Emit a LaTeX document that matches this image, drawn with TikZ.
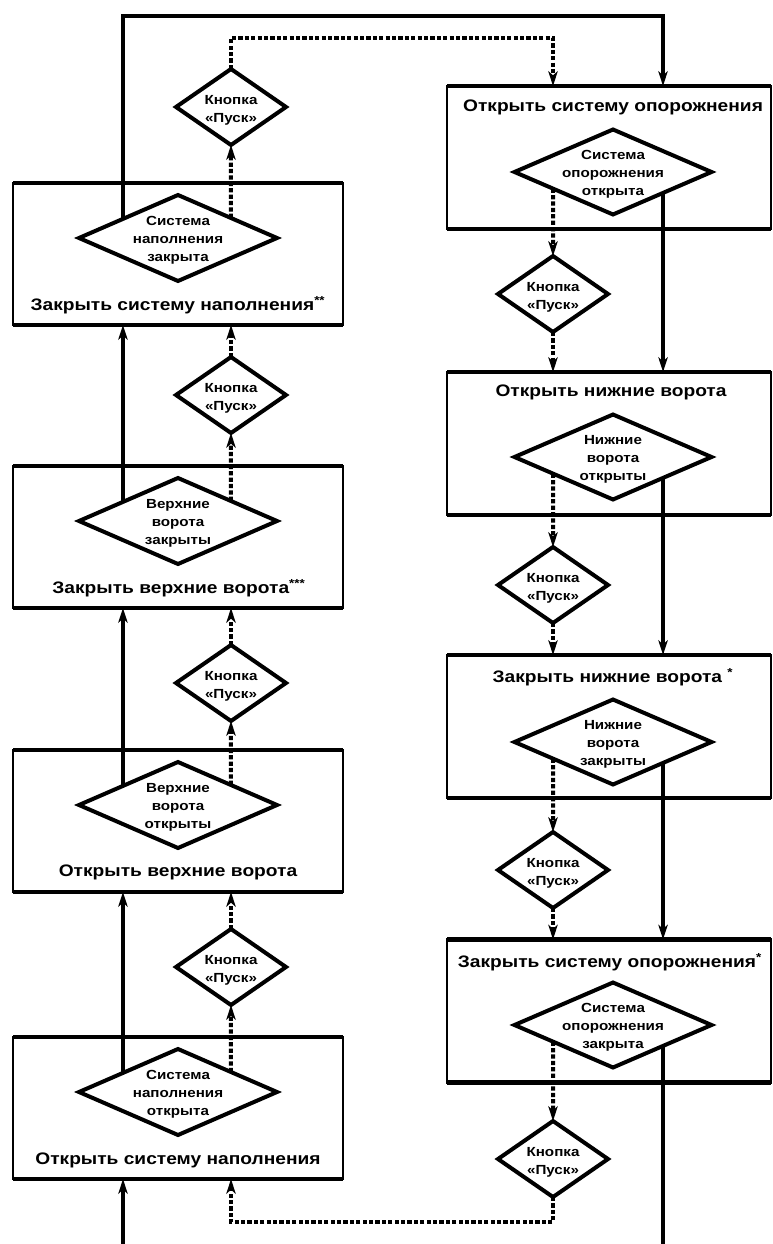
\documentclass[tikz,border=0pt]{standalone}
\usepackage{fontspec}
\newfontfamily\tfont[FakeStretch=1.15]{Liberation Sans}
\usetikzlibrary{shapes.geometric,arrows.meta,calc}
\tikzset{
  box/.style={draw, line width=2.2pt, minimum width=247.5pt, minimum height=106.5pt, inner sep=0pt, outer sep=0pt},
  rbox/.style={box, minimum width=243pt, minimum height=107.25pt},
  dia/.style={draw, diamond, line width=3pt, minimum width=148.5pt, minimum height=64.5pt, inner sep=0pt, outer sep=0pt},
  rdia/.style={dia, minimum width=147.75pt, minimum height=63.75pt},
  kdia/.style={draw, diamond, line width=3pt, minimum width=82.5pt, minimum height=57pt, inner sep=0pt, outer sep=0pt},
  boxtitle/.style={font=\tfont\bfseries\fontsize{12.5}{15}\selectfont, inner sep=0pt},
  dtext/.style={font=\tfont\bfseries\fontsize{9.9}{13.5}\selectfont, align=center, inner sep=0pt},
  sol/.style={line width=3pt},
  dotl/.style={line width=3pt, dash pattern=on 3.2pt off 1.6pt},
  arr/.style={-{Stealth[length=11pt,width=7pt,inset=3pt]}},
  thickedge/.style={line width=3.6pt},
}
\begin{document}
\begin{tikzpicture}[x=0.75pt,y=-0.75pt]
\useasboundingbox (0,0) rectangle (773,1244);
\fill[white] (0,0) rectangle (773,1244);

% left boxes
\node[box] (L1) at (178,254) {};
\node[box] (L2) at (178,537) {};
\node[box] (L3) at (178,821) {};
\node[box] (L4) at (178,1108) {};
% right boxes
\node[rbox] (R1) at (609,157.5) {};
\node[rbox] (R2) at (609,443.5) {};
\node[rbox] (R3) at (609,726.5) {};
\node[rbox] (R4) at (609,1011) {};
\foreach \b in {L1,L2,L3,L4,R1,R2,R3,R4}{
  \draw[thickedge] (\b.north west) -- (\b.north east);
  \draw[thickedge] (\b.south west) -- (\b.south east);
}

% titles
\node[boxtitle] (tL1) at (178,305) {Закрыть систему наполнения\textsuperscript{**}};
\node[boxtitle] (tL2) at (179,588) {Закрыть верхние ворота\textsuperscript{***}};
\node[boxtitle] (tL3) at (178,872) {Открыть верхние ворота};
\node[boxtitle] (tL4) at (178,1160) {Открыть систему наполнения};
\node[boxtitle] (tR1) at (613,107) {Открыть систему опорожнения};
\node[boxtitle] (tR2) at (611,392) {Открыть нижние ворота};
\node[boxtitle] (tR3) at (613,677) {Закрыть нижние ворота \textsuperscript{*}};
\node[boxtitle] (tR4) at (610,962) {Закрыть систему опорожнения\textsuperscript{*}};

% box diamonds
\node[dia] (dL1) at (178,238) {};
\node[dia] (dL2) at (178,521) {};
\node[dia] (dL3) at (178,805) {};
\node[dia] (dL4) at (178,1092) {};
\node[rdia] (dR1) at (613,172) {};
\node[rdia] (dR2) at (613,457) {};
\node[rdia] (dR3) at (613,742) {};
\node[rdia] (dR4) at (613,1025) {};
\node[dtext] (xL1) at ($(dL1.center)+(0,2)$) {Система\\наполнения\\закрыта};
\node[dtext] (xL2) at ($(dL2.center)+(0,2)$) {Верхние\\ворота\\закрыты};
\node[dtext] (xL3) at ($(dL3.center)+(0,2)$) {Верхние\\ворота\\открыты};
\node[dtext] (xL4) at ($(dL4.center)+(0,2)$) {Система\\наполнения\\открыта};
\node[dtext] (xR1) at ($(dR1.center)+(0,2)$) {Система\\опорожнения\\открыта};
\node[dtext] (xR2) at ($(dR2.center)+(0,2)$) {Нижние\\ворота\\открыты};
\node[dtext] (xR3) at ($(dR3.center)+(0,2)$) {Нижние\\ворота\\закрыты};
\node[dtext] (xR4) at ($(dR4.center)+(0,2)$) {Система\\опорожнения\\закрыта};

% start-button diamonds
\node[kdia] (k1) at (231,107) {};
\node[kdia] (k2) at (231,395) {};
\node[kdia] (k3) at (231,683) {};
\node[kdia] (k4) at (231,967) {};
\node[kdia] (kr1) at (553,294) {};
\node[kdia] (kr2) at (553,585) {};
\node[kdia] (kr3) at (553,870) {};
\node[kdia] (kr4) at (553,1159) {};
\foreach \k in {k1,k2,k3,k4,kr1,kr2,kr3,kr4}{
  \node[dtext] (t\k) at ($(\k.center)+(0,3)$) {Кнопка\\«Пуск»};
}

% edge points on diamonds
\foreach \d in {L1,L2,L3,L4}{
  \coordinate (s\d) at ($(d\d.west)!0.444!(d\d.north)$);
  \coordinate (p\d) at ($(d\d.north)!0.535!(d\d.east)$);
}
\foreach \d in {R1,R2,R3,R4}{
  \coordinate (s\d) at ($(d\d.south)!0.508!(d\d.east)$);
  \coordinate (p\d) at ($(d\d.west)!0.391!(d\d.south)$);
}
\coordinate (bl) at (123,1244);
\coordinate (br) at (663,1244);
\coordinate (tl) at (123,16);
\coordinate (tr) at (663,16);
\coordinate (dtl) at (231,38);
\coordinate (dtr) at (553,38);
\coordinate (dbl) at (231,1222);
\coordinate (dbr) at (553,1222);

% left solid chain
\draw[sol,arr] (bl) -- (bl |- L4.south);
\draw[sol,arr] (sL4) -- (sL4 |- L3.south);
\draw[sol,arr] (sL3) -- (sL3 |- L2.south);
\draw[sol,arr] (sL2) -- (sL2 |- L1.south);
\draw[sol,arr] (sL1) -- (sL1 |- tl) -- (tr) -- (tr |- R1.north);
% right solid chain
\draw[sol,arr] (sR1) -- (sR1 |- R2.north);
\draw[sol,arr] (sR2) -- (sR2 |- R3.north);
\draw[sol,arr] (sR3) -- (sR3 |- R4.north);
\draw[sol] (sR4) -- (sR4 |- br);

% left dotted chain
\draw[dotl,arr] (pL4) -- (k4.south);
\draw[dotl,arr] (k4.north) -- (k4.north |- L3.south);
\draw[dotl,arr] (pL3) -- (k3.south);
\draw[dotl,arr] (k3.north) -- (k3.north |- L2.south);
\draw[dotl,arr] (pL2) -- (k2.south);
\draw[dotl,arr] (k2.north) -- (k2.north |- L1.south);
\draw[dotl,arr] (pL1) -- (k1.south);
\draw[dotl,arr] (k1.north) -- (k1.north |- dtl) -- (dtr) -- (dtr |- R1.north);
% right dotted chain
\draw[dotl,arr] (pR1) -- (kr1.north);
\draw[dotl,arr] (kr1.south) -- (kr1.south |- R2.north);
\draw[dotl,arr] (pR2) -- (kr2.north);
\draw[dotl,arr] (kr2.south) -- (kr2.south |- R3.north);
\draw[dotl,arr] (pR3) -- (kr3.north);
\draw[dotl,arr] (kr3.south) -- (kr3.south |- R4.north);
\draw[dotl,arr] (pR4) -- (kr4.north);
\draw[dotl,arr] (kr4.south) -- (kr4.south |- dbr) -- (dbl) -- (dbl |- L4.south);
\end{tikzpicture}
\end{document}
